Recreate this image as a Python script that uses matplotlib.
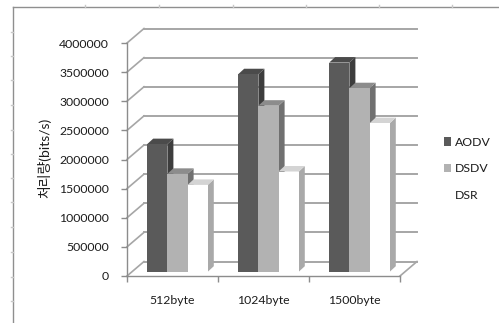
import matplotlib
matplotlib.use('Agg')
import matplotlib.pyplot as plt
from matplotlib.lines import Line2D
from matplotlib.patches import Polygon
import numpy as np

plt.rcParams['font.family'] = ['Lato', 'Noto Sans CJK KR', 'DejaVu Sans']

categories = ['512byte', '1024byte', '1500byte']
series_names = ['AODV', 'DSDV', 'DSR']
aodv = [2190000, 3390000, 3590000]
dsdv = [1680000, 2850000, 3150000]
dsr = [1490000, 1720000, 2550000]
y_ticks = [0, 500000, 1000000, 1500000, 2000000, 2500000, 3000000, 3500000, 4000000]

front_cols = ['#5a5a5a', '#b2b2b2', '#ffffff']
top_cols = ['#4b4b4b', '#8c8c8c', '#d4d4d4']
side_cols = ['#3d3d3d', '#707070', '#a9a9a9']
grid_col = '#a6a6a6'
text_col = '#1c1c1c'

W, H = 499, 323
fig = plt.figure(figsize=(W / 100, H / 100), dpi=100)
ax = fig.add_axes([127 / W, (H - 276) / H, 273 / W, 233 / H])
ax.set_xlim(-0.5, 2.5)
ax.set_ylim(0, 4000000)

# pixel to data scale factors for the fake 3d offsets
px_x = 3 / 273
px_y = 4000000 / 233
wall_dx, wall_dy = 17 * px_x, 14.5 * px_y
bar_w = 20.2 * px_x
depth_dx, depth_dy = 6 * px_x, 5.5 * px_y
base = 4.3 * px_y
shift = 5 * px_x

# back wall and side wall gridlines
for t in y_ticks:
    ax.plot([-0.5, -0.5 + wall_dx], [t, t + wall_dy], color=grid_col, lw=1.2, zorder=1, clip_on=False)
    ax.plot([-0.5 + wall_dx, 2.5 + wall_dx], [t + wall_dy, t + wall_dy], color=grid_col, lw=1.4,
            zorder=1, clip_on=False)
ax.plot([2.5, 2.5 + wall_dx], [0, wall_dy], color=grid_col, lw=1.2, zorder=1, clip_on=False)

handles = []
for i, vals in enumerate([aodv, dsdv, dsr]):
    for j, v in enumerate(vals):
        x0 = j + shift + (i - 1.5) * bar_w
        x1 = x0 + bar_w
        top = v + base
        side = [(x1, base), (x1 + depth_dx, base + depth_dy), (x1 + depth_dx, top + depth_dy), (x1, top)]
        cap = [(x0, top), (x0 + depth_dx, top + depth_dy), (x1 + depth_dx, top + depth_dy), (x1, top)]
        # later series sit in front, so each one gets a higher zorder
        ax.add_patch(Polygon(side, fc=side_cols[i], ec='none', zorder=3 + i + j * 5, clip_on=False))
        ax.add_patch(Polygon(cap, fc=top_cols[i], ec='none', zorder=3 + i + j * 5, clip_on=False))
    bars = ax.bar(np.arange(3) + shift + (i - 1) * bar_w, vals, width=bar_w, bottom=base,
                  color=front_cols[i], linewidth=0, label=series_names[i], clip_on=False)
    for j, b in enumerate(bars):
        b.set_zorder(3.5 + i + j * 5)
    handles.append(bars[0])

for s in ['top', 'right']:
    ax.spines[s].set_visible(False)
for s in ['left', 'bottom']:
    ax.spines[s].set_color('#8c8c8c')
    ax.spines[s].set_linewidth(1.0)

ax.set_yticks(y_ticks)
ax.set_yticklabels([str(t) for t in y_ticks])
ax.set_xticks(range(3))
ax.set_xticklabels(categories)
ax.set_xticks([-0.5, 0.5, 1.5, 2.5], minor=True)
ax.tick_params(axis='y', length=4, width=1, color='#8c8c8c', pad=9, labelsize=8.8, labelcolor=text_col)
ax.tick_params(axis='x', which='major', length=0, pad=14, labelsize=8.8, labelcolor=text_col)
ax.tick_params(axis='x', which='minor', length=4, width=1, color='#8c8c8c')
ax.patch.set_visible(False)

fig.text(44 / W, (H - 158) / H, '처리량(bits/s)', rotation=90, ha='center', va='center',
         fontsize=10, color=text_col)

leg = ax.legend(handles, series_names, frameon=False, loc='upper left',
                bbox_to_anchor=(444 / W, (H - 137) / H), bbox_transform=fig.transFigure,
                fontsize=8.8, labelcolor=text_col, handlelength=0.6, handleheight=0.7,
                handletextpad=0.3, labelspacing=1.25, borderpad=0, borderaxespad=0)

# outer chart border, only top and left are in view
fig.add_artist(Line2D([12.5 / W, 12.5 / W], [0, (H - 7) / H], color='#8f8f8f', lw=1))
fig.add_artist(Line2D([12.5 / W, 1], [(H - 7) / H, (H - 7) / H], color='#8f8f8f', lw=1))

# faint ruler ticks along the border
for px in [85, 159, 233, 306, 379, 452]:
    fig.add_artist(Line2D([px / W, px / W], [(H - 7) / H, (H - 5) / H], color='#c8c8c8', lw=1))
for py in [32, 56, 80, 105, 130, 154, 178, 202, 227, 252, 277, 301]:
    fig.add_artist(Line2D([10.5 / W, 12.5 / W], [(H - py) / H, (H - py) / H], color='#c8c8c8', lw=1))

fig.savefig('out.png', dpi=100)
